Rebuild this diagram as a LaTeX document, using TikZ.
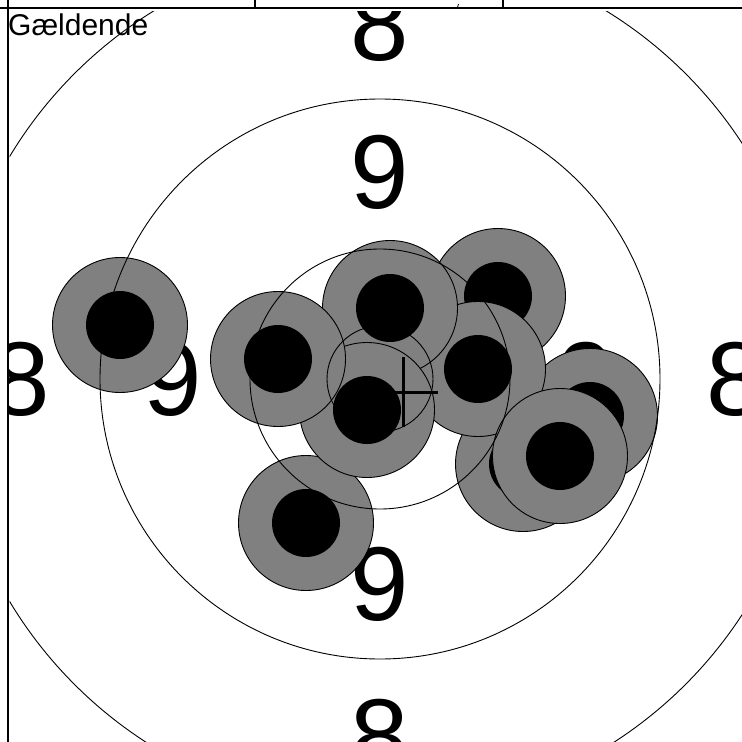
\documentclass[tikz,border=0pt]{standalone}
\usepackage{fontspec}
\setmainfont{Liberation Sans}
\definecolor{targetink}{HTML}{000000}
\definecolor{shotgray}{HTML}{808080}
\tikzset{
  ringline/.style={draw=targetink, line width=.9pt},
  ringnum/.style={font=\fontsize{105}{105}\selectfont, text=targetink,
    inner sep=0pt, anchor=center},
  shotdisc/.style={draw=targetink, fill=shotgray, line width=.9pt},
  shotcore/.style={fill=targetink},
  meancross/.style={draw=targetink, line width=3pt},
  frameline/.style={draw=targetink, line width=1.6pt},
  cardtext/.style={font=\fontsize{30}{30}\selectfont, text=targetink, inner sep=0pt}
}

\begin{document}
\begin{tikzpicture}[x=1pt,y=-1pt]
  % Target face with ten impacts, clipped below the header row.
  \useasboundingbox (0,0) rectangle (742,742);
  \begin{scope}
    \clip (9.5,11.5) rectangle (742,742);
    \coordinate (centre) at (380,379);
    \node[ringnum] (eighttop) at (380,24) {8};
    \node[ringnum] (eightbottom) at (380,736) {8};
    \node[ringnum] (eightleft) at (21,379) {8};
    \node[ringnum] (eightright) at (736,379) {8};
    \node[ringnum] (ninetop) at (380,172) {9};
    \node[ringnum] (ninebottom) at (380,584) {9};
    \node[ringnum] (nineleft) at (173,379) {9};
    \node[ringnum] (nineright) at (587,379) {9};
    \foreach \sx/\sy in {120/325, 306/523, 590/416, 523/464, 498/296,
                         478/369, 390/308, 367/410, 278/359, 560/456} {
      \draw[shotdisc] (\sx,\sy) circle (67.5pt);
      \fill[shotcore] (\sx,\sy) circle (34pt);
    }
    \foreach \r in {432,280,130,53}
      \draw[ringline] (centre) circle (\r pt);
    \coordinate (meanpoint) at (403,392);
    \draw[meancross] (meanpoint) +(-35,0) -- +(35,0) +(0,-35) -- +(0,35);
  \end{scope}
  \draw[frameline] (0,8) -- (742,8);
  \draw[frameline] (8,0) -- (8,742);
  \draw[frameline] (255,0) -- (255,8);
  \draw[frameline] (503,0) -- (503,8);
  \draw[targetink, line width=.8pt] (458.5,4) -- (457.5,7.5);
  \node[cardtext, anchor=base west] (validlabel) at (8,35) {Gældende};
\end{tikzpicture}
\end{document}
